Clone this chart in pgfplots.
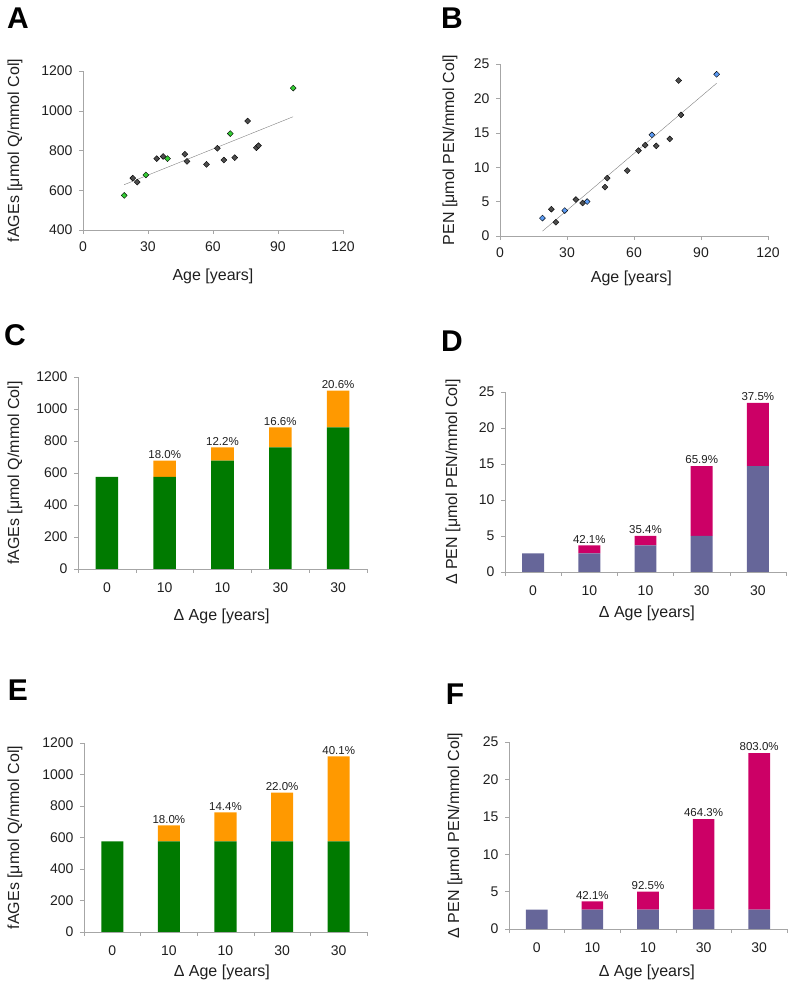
\documentclass[border=0pt]{standalone}
\usepackage{pgfplots}
\pgfplotsset{compat=1.18}
\usepackage{fontspec}
\setmainfont{Liberation Sans}
\definecolor{dgray}{HTML}{4D4D4D}
\definecolor{pgreen}{HTML}{33CC33}
\definecolor{pblue}{HTML}{5B9BF5}
\definecolor{bgreen}{HTML}{007A00}
\definecolor{borange}{HTML}{FF9900}
\definecolor{bpurple}{HTML}{666699}
\definecolor{bmag}{HTML}{CC0066}
\definecolor{txt}{HTML}{1F1F1F}
\pgfplotsset{
  base/.style={
    scale only axis,
    axis x line*=bottom, axis y line*=left,
    axis line style={-, draw=gray!70},
    every tick/.style={draw=gray!70, thin},
    tick align=outside, major tick length=4pt,
    tick label style={font=\fontsize{14}{14}\selectfont, text=txt},
    yticklabel style={xshift=-3pt},
    label style={font=\fontsize{16}{16}\selectfont, text=txt},
    /pgf/number format/assume math mode=true,
    /pgf/number format/1000 sep={},
    clip=false,
  },
  scat/.style={base, xmin=0, xmax=120, xtick={0,30,...,120}, xticklabel style={yshift=-4pt}},
  bars/.style={base, ybar stacked, bar width=0.39, xmin=-0.5, xmax=4.5,
    xtick={0,...,4}, xticklabels={0,10,10,30,30},
    minor xtick={-0.5,0.5,...,4.5},
    major x tick style={draw=none}, minor tick length=4pt,
    xticklabel style={yshift=-6pt},
    xlabel={Δ Age [years]}},
}
\tikzset{pct/.style={anchor=south, inner sep=2pt, font=\fontsize{11.5}{12}\selectfont, text=txt}}
\begin{document}
\begin{tikzpicture}
\useasboundingbox (0pt,0pt) rectangle (793pt,985pt);
% ---------- A ----------
\node[font=\bfseries\fontsize{30}{30}\selectfont] at (18pt,967pt) {A};
\begin{axis}[scat, at={(83pt,755pt)}, anchor=south west, width=260pt, height=159pt,
  ymin=400, ymax=1200, ytick={400,600,...,1200},
  xlabel={Age [years]}, ylabel={fAGEs [μmol Q/mmol Col]},
  xlabel style={at={(axis description cs:0.5,-0.289)}, anchor=center},
  ylabel style={at={(axis description cs:-0.262,0.5)}, anchor=center}]
\addplot[gray, thin] coordinates {(19,628) (97,970)};
\addplot[only marks, mark=square*, mark size=2.1pt, mark options={rotate=45, draw=none, fill=dgray}] coordinates {
(23,661) (25,641) (34,759) (37,770) (47,781) (48,745) (57,730) (62,811) (65,752) (70,764) (76,948) (80,814) (81,824)};
\addplot[only marks, mark=square*, mark size=2.1pt, mark options={rotate=45, draw=none, fill=pgreen}] coordinates {
(19,574) (29,677) (39,759) (68,885) (97,1114)};
\end{axis}
% ---------- B ----------
\node[font=\bfseries\fontsize{30}{30}\selectfont] at (452pt,967pt) {B};
\begin{axis}[scat, at={(500pt,749pt)}, anchor=south west, width=268pt, height=172pt,
  ymin=0, ymax=25, ytick={0,5,...,25},
  xlabel={Age [years]}, ylabel={PEN [μmol PEN/mmol Col]},
  xlabel style={at={(axis description cs:0.49,-0.244)}, anchor=center},
  ylabel style={at={(axis description cs:-0.187,0.5)}, anchor=center}]
\addplot[gray, thin] coordinates {(19,0.7) (97,22.2)};
\addplot[only marks, mark=square*, mark size=2.1pt, mark options={rotate=45, draw=none, fill=dgray}] coordinates {
(23,3.9) (25,2.0) (34,5.3) (37,4.8) (47,7.1) (48,8.4) (57,9.5) (62,12.4) (65,13.2) (70,13.1) (76,14.1) (80,22.6) (81,17.6)};
\addplot[only marks, mark=square*, mark size=2.1pt, mark options={rotate=45, draw=none, fill=pblue}] coordinates {
(19,2.6) (29,3.7) (39,5.0) (68,14.7) (97,23.5)};
\end{axis}
% ---------- C ----------
\node[font=\bfseries\fontsize{30}{30}\selectfont] at (15pt,650pt) {C};
\begin{axis}[bars, at={(78pt,416pt)}, anchor=south west, width=289pt, height=192pt,
  ymin=0, ymax=1200, ytick={0,200,...,1200},
  ylabel={fAGEs [μmol Q/mmol Col]},
  xlabel style={at={(axis description cs:0.497,-0.245)}, anchor=center},
  ylabel style={at={(axis description cs:-0.218,0.5)}, anchor=center}]
\addplot[fill=bgreen, draw=none] coordinates {(0,575) (1,575) (2,677) (3,760) (4,885)};
\addplot[fill=borange, draw=none] coordinates {(0,0) (1,102) (2,83) (3,125) (4,230)};
\node[pct] at (axis cs:1,677) {18.0\%};
\node[pct] at (axis cs:2,760) {12.2\%};
\node[pct] at (axis cs:3,885) {16.6\%};
\node[pct] at (axis cs:4,1115) {20.6\%};
\end{axis}
% ---------- D ----------
\node[font=\bfseries\fontsize{30}{30}\selectfont] at (452pt,644pt) {D};
\begin{axis}[bars, at={(505pt,413pt)}, anchor=south west, width=281pt, height=180pt,
  ymin=0, ymax=25, ytick={0,5,...,25},
  ylabel={Δ PEN [μmol PEN/mmol Col]},
  xlabel style={at={(axis description cs:0.505,-0.228)}, anchor=center},
  ylabel style={at={(axis description cs:-0.185,0.5)}, anchor=center}]
\addplot[fill=bpurple, draw=none] coordinates {(0,2.6) (1,2.6) (2,3.7) (3,5.0) (4,14.7)};
\addplot[fill=bmag, draw=none] coordinates {(0,0) (1,1.1) (2,1.3) (3,9.7) (4,8.8)};
\node[pct] at (axis cs:1,3.7) {42.1\%};
\node[pct] at (axis cs:2,5.0) {35.4\%};
\node[pct] at (axis cs:3,14.7) {65.9\%};
\node[pct] at (axis cs:4,23.5) {37.5\%};
\end{axis}
% ---------- E ----------
\node[font=\bfseries\fontsize{30}{30}\selectfont] at (18pt,295pt) {E};
\begin{axis}[bars, at={(84pt,53pt)}, anchor=south west, width=283pt, height=189pt,
  ymin=0, ymax=1200, ytick={0,200,...,1200},
  ylabel={fAGEs [μmol Q/mmol Col]},
  xlabel style={at={(axis description cs:0.487,-0.212)}, anchor=center},
  ylabel style={at={(axis description cs:-0.244,0.5)}, anchor=center}]
\addplot[fill=bgreen, draw=none] coordinates {(0,575) (1,575) (2,575) (3,575) (4,575)};
\addplot[fill=borange, draw=none] coordinates {(0,0) (1,102) (2,185) (3,310) (4,540)};
\node[pct] at (axis cs:1,677) {18.0\%};
\node[pct] at (axis cs:2,760) {14.4\%};
\node[pct] at (axis cs:3,885) {22.0\%};
\node[pct] at (axis cs:4,1115) {40.1\%};
\end{axis}
% ---------- F ----------
\node[font=\bfseries\fontsize{30}{30}\selectfont] at (455pt,291pt) {F};
\begin{axis}[bars, at={(509pt,56pt)}, anchor=south west, width=278pt, height=187pt,
  ymin=0, ymax=25, ytick={0,5,...,25},
  ylabel={Δ PEN [μmol PEN/mmol Col]},
  xlabel style={at={(axis description cs:0.496,-0.23)}, anchor=center},
  ylabel style={at={(axis description cs:-0.194,0.5)}, anchor=center}]
\addplot[fill=bpurple, draw=none] coordinates {(0,2.6) (1,2.6) (2,2.6) (3,2.6) (4,2.6)};
\addplot[fill=bmag, draw=none] coordinates {(0,0) (1,1.1) (2,2.4) (3,12.1) (4,20.9)};
\node[pct] at (axis cs:1,3.7) {42.1\%};
\node[pct] at (axis cs:2,5.0) {92.5\%};
\node[pct] at (axis cs:3,14.7) {464.3\%};
\node[pct] at (axis cs:4,23.5) {803.0\%};
\end{axis}
\end{tikzpicture}
\end{document}
